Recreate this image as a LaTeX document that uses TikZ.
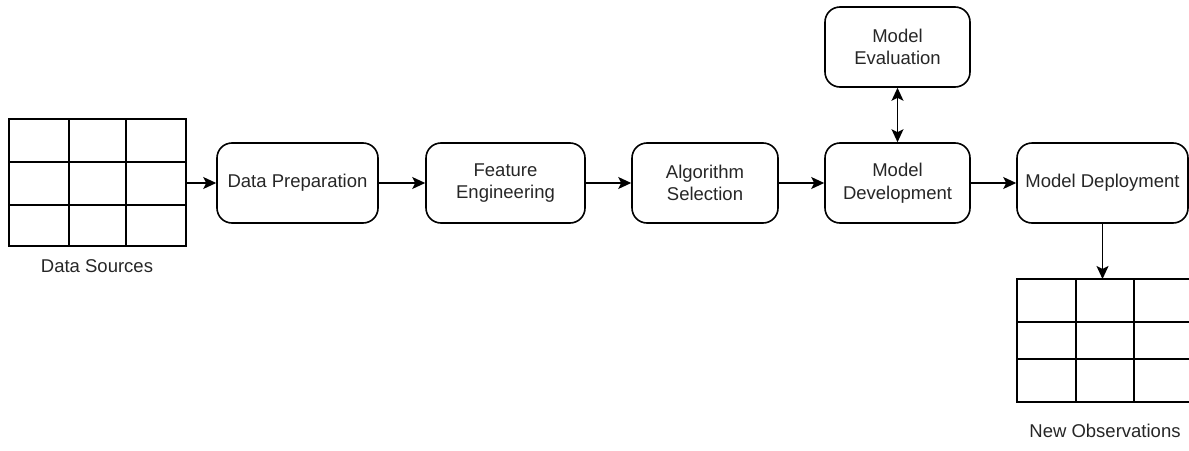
\documentclass[tikz,border=0pt]{standalone}
\usepackage{fontspec}
\setmainfont{Liberation Sans}
\usetikzlibrary{arrows.meta}
\begin{document}
\begin{tikzpicture}[x=1pt,y=-1pt,
  every node/.style={font=\fontsize{18.5}{22.5}\selectfont, text=black!85},
  stage/.style={draw, line width=1.6pt, rounded corners=15pt, align=center, inner sep=0pt},
  tip/.tip={Stealth[length=13pt,width=12pt,inset=3pt]},
  flow/.style={line width=1.6pt, -tip},
  grid line/.style={line width=1.6pt},
  caption/.style={anchor=center}]
\useasboundingbox (0,0) rectangle (1189,450);

% data sources table
\draw[grid line] (9,119) rectangle (186,246);
\draw[grid line] (69,119) -- (69,246) (126,119) -- (126,246)
                 (9,162) -- (186,162) (9,205) -- (186,205);
\coordinate (src) at (186,183);
\node[caption] (srclabel) at (97,266) {Data Sources};

% pipeline stages
\node[stage, minimum width=161pt, minimum height=80pt] (prep) at (297.5,183) {Data Preparation};
\node[stage, minimum width=159pt, minimum height=80pt] (feat) at (505.5,183) {Feature\\Engineering};
\node[stage, minimum width=146pt, minimum height=80pt] (algo) at (705,183) {Algorithm\\Selection};
\node[stage, minimum width=145pt, minimum height=80pt] (dev) at (897.5,183) {Model\\Development};
\node[stage, minimum width=145pt, minimum height=80pt] (eval) at (897.5,47) {Model\\Evaluation};
\node[stage, minimum width=171pt, minimum height=80pt] (dep) at (1102.5,183) {Model Deployment};

% new observations table (runs past the right edge)
\begin{scope}
\clip (0,0) rectangle (1189,450);
\draw[grid line] (1017,279) rectangle (1193,402);
\draw[grid line] (1076,279) -- (1076,402) (1134,279) -- (1134,402)
                 (1017,322) -- (1193,322) (1017,359) -- (1193,359);
\end{scope}
\coordinate (obs) at (1102.5,279);
\node[caption] (obslabel) at (1105,431) {New Observations};

% connectors
\draw[flow] (src) -- (prep);
\draw[flow] (prep) -- (feat);
\draw[flow] (feat) -- (algo);
\draw[flow] (algo) -- (dev);
\draw[flow] (dev) -- (dep);
\draw[flow, tip-tip] (eval) -- (dev);
\draw[flow] (dep) -- (obs);
\end{tikzpicture}
\end{document}
